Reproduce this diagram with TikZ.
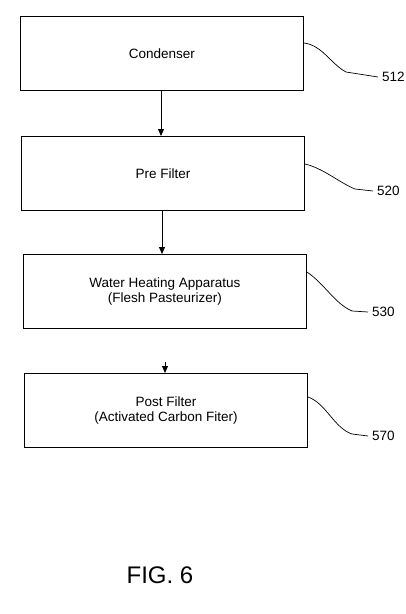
\documentclass[tikz,border=0pt]{standalone}
\usepackage{fontspec}
\setmainfont{Liberation Sans}
\usetikzlibrary{arrows.meta}
\begin{document}
\begin{tikzpicture}[x=1pt,y=-1pt,
  blk/.style={draw,line width=0.9pt,minimum width=283pt,minimum height=74pt,anchor=north west,inner sep=0pt,align=center,font=\fontsize{13.5}{14.5}\selectfont},
  flow/.style={draw,line width=1pt,-{Triangle[length=7pt,width=6pt]}},
  lead/.style={draw,line width=0.7pt},
  ref/.style={font=\fontsize{13.5}{14}\selectfont,anchor=west,inner sep=0pt}]
\useasboundingbox (0,0) rectangle (406,614);
\node[blk] (b1) at (20,16) {Condenser};
\node[blk] (b2) at (21,136) {Pre Filter};
\node[blk] (b3) at (23,254) {Water Heating Apparatus\\(Flesh Pasteurizer)};
\node[blk] (b4) at (24,373) {Post Filter\\(Activated Carbon Fiter)};
\draw[flow] (b1.south -| 161,0) -- (b2.north -| 161,0);
\draw[flow] (b2.south -| 162,0) -- (b3.north -| 162,0);
\coordinate (a4) at (165,362);
\draw[flow] (a4) -- (b4.north -| 165,0);
\node[ref] (r1) at (382,77) {512};
\node[ref] (r2) at (377,191) {520};
\node[ref] (r3) at (372,312) {530};
\node[ref] (r4) at (372,436) {570};
\draw[lead] (b1.north east) ++(0,27) .. controls +(18,2) and +(-15,-8) .. (346,72) -- ([xshift=-4pt]r1.west);
\draw[lead] (b2.north east) ++(0,28) .. controls +(18,4) and +(-15,-6) .. (355,189) -- ([xshift=-4pt]r2.west);
\draw[lead] (b3.north east) ++(0,18) .. controls +(18,12) and +(-18,-8) .. (352,311) -- ([xshift=-4pt]r3.west);
\draw[lead] (b4.north east) ++(0,24) .. controls +(18,6) and +(-18,-6) .. (352,434) -- ([xshift=-4pt]r4.west);
\node[font=\fontsize{24}{26}\selectfont,inner sep=0pt] (fig) at (160,575) {FIG. 6};
\end{tikzpicture}
\end{document}
